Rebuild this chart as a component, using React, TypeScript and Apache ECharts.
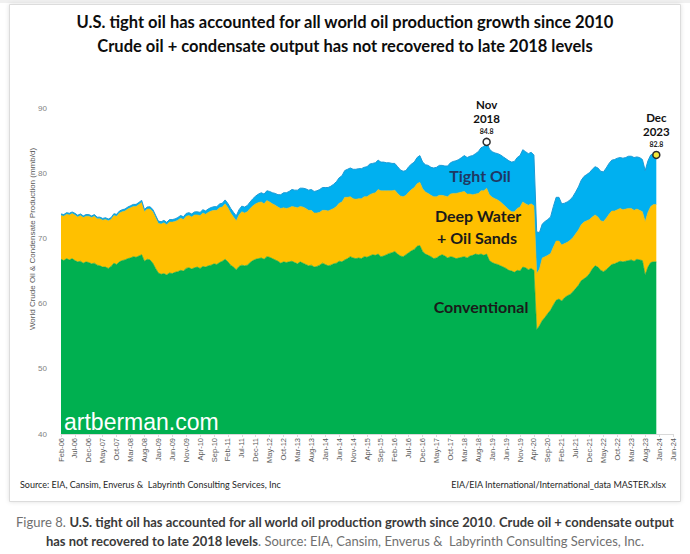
import React, { useEffect, useRef } from "react";
import * as echarts from "echarts";

const MONTHS = ["Jan","Feb","Mar","Apr","May","Jun","Jul","Aug","Sep","Oct","Nov","Dec"];
const categories: string[] = [];
for (let y = 2006; y <= 2024; y++) {
  for (let m = 0; m < 12; m++) {
    if (y === 2006 && m < 1) continue;
    if (y === 2024 && m > 5) break;
    categories.push(`${MONTHS[m]}-${String(y % 100).padStart(2, "0")}`);
  }
}

const yTicks = [40, 50, 60, 70, 80, 90];

// Feb-06 .. Dec-23 (mmb/d)
const conventional = [
  66.8, 66.6, 66.9, 66.7, 66.9, 66.6, 66.4, 66.5, 66.2, 66.4, 66.3,
  66.1, 66.2, 65.9, 65.8, 65.6, 65.6, 65.4, 65.7, 66.2, 66.0, 66.4, 66.6,
  66.7, 66.9, 67.0, 67.2, 67.1, 67.3, 67.5, 66.5, 66.8, 66.7, 66.2, 65.4,
  64.7, 64.5, 64.6, 64.4, 64.7, 64.6, 64.8, 64.9, 65.1, 65.0, 65.4, 65.5,
  65.3, 65.5, 65.6, 65.4, 65.7, 65.6, 65.8, 65.9, 66.1, 66.0, 66.3, 66.5,
  66.8, 66.4, 65.9, 65.6, 65.2, 65.7, 65.9, 65.8, 65.9, 66.3, 66.6, 66.8,
  66.9, 67.0, 66.8, 67.2, 67.1, 66.9, 66.7, 66.5, 66.2, 66.4, 66.3, 66.4,
  66.5, 66.3, 66.1, 66.4, 66.2, 66.0, 65.8, 65.9, 65.6, 65.7, 65.9, 66.2,
  66.0, 65.8, 65.9, 66.1, 66.2, 66.5, 66.4, 66.7, 66.9, 67.2, 67.0, 66.9,
  67.0, 66.9, 67.2, 67.1, 67.3, 67.5, 67.4, 67.6, 67.2, 67.3, 67.5, 67.7,
  67.8, 68.0, 67.6, 67.3, 67.2, 67.5, 67.8, 68.1, 68.3, 68.8, 68.9, 68.0,
  67.6, 67.4, 67.2, 66.9, 67.0, 67.3, 67.5, 67.3, 67.0, 67.2, 67.1, 66.9,
  67.0, 67.1, 67.2, 67.0, 67.3, 67.4, 67.6, 67.5, 67.6, 67.4, 67.6, 66.6,
  66.3, 66.1, 66.0, 65.8, 65.6, 65.4, 65.1, 65.0, 64.8, 65.1, 65.0, 65.6,
  65.5, 65.2, 65.4, 65.1, 56.0, 56.6, 57.4, 57.9, 58.5, 59.0, 59.8, 60.5,
  60.7, 60.4, 60.9, 61.2, 61.4, 61.8, 62.3, 62.8, 63.5, 63.8, 64.1, 64.6,
  65.3, 65.8, 65.6, 65.1, 64.9, 65.2, 65.6, 66.0, 66.1, 66.3, 66.5, 66.4,
  66.5, 66.6, 66.7, 66.5, 66.8, 66.7, 66.6, 64.4, 65.6, 66.3, 66.4, 66.4,
];

const deepWater = [
  6.7, 6.8, 6.8, 6.9, 6.9, 7.0, 6.9, 7.0, 7.0, 7.0, 7.1,
  7.1, 7.2, 7.1, 7.2, 7.2, 7.3, 7.3, 7.2, 7.3, 7.4, 7.5, 7.5,
  7.5, 7.6, 7.7, 7.7, 7.8, 7.9, 8.0, 7.6, 7.7, 7.8, 7.9, 7.8,
  7.6, 7.7, 7.8, 7.7, 7.8, 7.9, 7.8, 7.9, 8.0, 7.9, 8.0, 8.0,
  8.0, 8.1, 8.0, 8.1, 8.2, 8.1, 8.2, 8.3, 8.2, 8.3, 8.4, 8.3,
  8.5, 8.3, 8.0, 7.7, 7.5, 7.9, 8.2, 8.1, 8.2, 8.3, 8.4, 8.5,
  8.6, 8.6, 8.5, 8.6, 8.5, 8.4, 8.4, 8.3, 8.4, 8.3, 8.3, 8.3,
  8.4, 8.5, 8.6, 8.5, 8.6, 8.6, 8.5, 8.4, 8.3, 8.2, 8.1, 8.1,
  8.3, 8.4, 8.5, 8.5, 8.7, 8.9, 9.2, 9.6, 9.4, 9.2, 9.1, 9.1,
  9.1, 9.2, 9.2, 9.3, 9.4, 9.4, 9.6, 9.9, 10.1, 10.0, 9.8, 9.6,
  9.5, 9.4, 9.3, 9.2, 9.2, 9.1, 9.3, 9.4, 9.5, 9.6, 9.7, 9.6,
  9.5, 9.5, 9.4, 9.5, 9.4, 9.3, 9.1, 9.2, 9.4, 9.6, 9.8, 10.0,
  10.0, 10.0, 10.0, 9.8, 9.5, 9.3, 9.2, 9.4, 9.7, 9.9, 10.1, 10.1,
  10.0, 10.0, 9.9, 9.8, 9.6, 9.4, 9.3, 9.1, 9.3, 9.5, 9.8, 10.0,
  9.8, 9.9, 9.9, 9.9, 8.6, 8.7, 9.6, 9.3, 8.9, 8.7, 8.9, 9.1,
  8.9, 8.6, 8.3, 8.2, 8.3, 8.3, 8.4, 8.5, 8.6, 8.7, 8.6, 8.3,
  8.0, 7.8, 7.7, 7.6, 7.7, 7.9, 8.1, 8.2, 8.1, 8.1, 8.1, 8.0,
  8.0, 8.0, 7.9, 7.8, 7.7, 7.6, 7.5, 8.2, 8.4, 8.6, 8.8, 8.8,
];

const tightOil = [
  0.25, 0.25, 0.25, 0.25, 0.25, 0.25, 0.25, 0.25, 0.25, 0.25, 0.25,
  0.25, 0.25, 0.25, 0.26, 0.26, 0.27, 0.27, 0.28, 0.28, 0.29, 0.29, 0.3,
  0.3, 0.3, 0.31, 0.31, 0.32, 0.32, 0.33, 0.33, 0.32, 0.34, 0.35, 0.35,
  0.35, 0.36, 0.36, 0.37, 0.38, 0.38, 0.39, 0.4, 0.41, 0.42, 0.43, 0.44,
  0.45, 0.46, 0.48, 0.49, 0.5, 0.52, 0.53, 0.54, 0.56, 0.57, 0.58, 0.6,
  0.6, 0.65, 0.7, 0.7, 0.75, 0.8, 0.85, 0.9, 0.95, 1.0, 1.1, 1.2,
  1.3, 1.4, 1.5, 1.5, 1.6, 1.7, 1.8, 1.9, 2.1, 2.3, 2.4, 2.5,
  2.6, 2.6, 2.7, 2.8, 2.9, 3.0, 3.1, 3.2, 3.3, 3.4, 3.5, 3.5,
  3.5, 3.6, 3.6, 3.7, 3.8, 3.9, 4.0, 4.1, 4.3, 4.4, 4.5, 4.6,
  4.6, 4.6, 4.5, 4.6, 4.7, 4.6, 4.6, 4.5, 4.4, 4.4, 4.3, 4.3,
  4.2, 4.1, 4.1, 4.0, 3.9, 3.8, 3.9, 3.9, 3.9, 4.0, 4.1, 4.1,
  4.2, 4.3, 4.3, 4.4, 4.5, 4.6, 4.6, 4.6, 4.7, 4.8, 4.9, 5.0,
  5.1, 5.3, 5.5, 5.6, 5.8, 6.0, 6.2, 6.4, 6.6, 6.8, 7.1, 7.0,
  7.0, 7.0, 7.1, 7.2, 7.3, 7.4, 7.5, 7.6, 7.7, 7.8, 7.9, 8.0,
  8.0, 7.9, 7.9, 7.8, 6.4, 5.6, 5.2, 5.4, 5.5, 5.6, 6.2, 6.7,
  6.7, 6.3, 6.2, 6.2, 6.2, 6.3, 6.4, 6.6, 6.8, 7.0, 7.1, 7.2,
  7.3, 7.4, 7.5, 7.6, 7.6, 7.7, 7.8, 7.8, 7.9, 7.9, 7.8, 7.9,
  7.9, 8.0, 8.0, 8.1, 8.0, 8.1, 8.0, 7.8, 7.9, 7.9, 7.8, 7.6,
];

const highlightMonths = ["Nov-18", "Dec-23"];
const highlightFills = ["#ffffff", "#f3ea3c"];

const FONT = "Lato, 'Open Sans', sans-serif";

export default function App() {
  const ref = useRef<HTMLDivElement>(null);
  useEffect(() => {
    if (!ref.current) return;
    const chart = echarts.init(ref.current, null, { renderer: "svg" });
    const totals = conventional.map((c, i) => Math.round((c + deepWater[i] + tightOil[i]) * 10) / 10);
    const highlightData = highlightMonths.map((name, i) => {
      const idx = categories.indexOf(name);
      return { name, value: [idx, totals[idx]], itemStyle: { color: highlightFills[i] } };
    });
    const areaSeries = (name: string, data: number[], color: string, lineColor: string, lw: number) => ({
      name,
      type: "line",
      stack: "total",
      data,
      symbol: "none",
      showSymbol: false,
      lineStyle: { width: lw, color: lineColor },
      itemStyle: { color },
      areaStyle: { color, opacity: 1 },
      z: 2,
    });
    chart.setOption({
      animation: false,
      backgroundColor: "#ffffff",
      grid: { left: 61, right: 17, top: 108, bottom: 120, containLabel: false },
      xAxis: {
        type: "category",
        data: categories,
        boundaryGap: false,
        axisLine: { show: true, lineStyle: { color: "#d9d9d9", width: 1 } },
        axisTick: { show: true, interval: 4, length: 3, lineStyle: { color: "#d9d9d9" } },
        axisLabel: {
          interval: 4,
          rotate: 90,
          fontSize: 7.5,
          fontFamily: "'Liberation Sans', Arial, sans-serif",
          color: "#595959",
          margin: 4,
        },
        splitLine: { show: false },
      },
      yAxis: {
        type: "value",
        min: yTicks[0],
        max: yTicks[yTicks.length - 1],
        interval: 10,
        axisLine: { show: false },
        axisTick: { show: false },
        splitLine: { show: false },
        axisLabel: {
          fontSize: 8,
          fontFamily: "'Liberation Sans', Arial, sans-serif",
          color: "#7f7f7f",
          margin: 14,
        },
      },
      series: [
        areaSeries("Conventional", conventional, "#00b050", "#00a84a", 0.6),
        areaSeries("Deep Water + Oil Sands", deepWater, "#ffc000", "#f5b800", 0.6),
        areaSeries("Tight Oil", tightOil, "#00b0f0", "#1b9ad6", 1),
        {
          type: "scatter",
          data: highlightData,
          symbol: "circle",
          symbolSize: 7,
          z: 10,
          itemStyle: { borderColor: "#2b2b2b", borderWidth: 1.5, opacity: 1 },
          label: {
            show: true,
            position: "top",
            distance: 2,
            align: "center",
            formatter: (p: any) => {
              const [mon, yr] = String(p.name).split("-");
              return `{m|${mon}}\n{m|20${yr}}\n{v|${Number(p.value[1]).toFixed(1)}}`;
            },
            rich: {
              m: { fontFamily: FONT, fontWeight: "bold", fontSize: 11.5, color: "#111111", lineHeight: 14, align: "center" },
              v: { fontFamily: FONT, fontWeight: "bold", fontSize: 7, color: "#222222", lineHeight: 10, align: "center" },
            },
          },
        },
      ],
      graphic: [
        { type: "rect", z: -10, shape: { x: 0, y: 0, width: 690, height: 3 }, style: { fill: "#f0f0f0" } },
        {
          type: "rect",
          z: -9,
          shape: { x: 9.5, y: 4.5, width: 671, height: 497 },
          style: { fill: "#ffffff", stroke: "#dcdcdc", lineWidth: 1, shadowBlur: 4, shadowColor: "rgba(0,0,0,0.12)" },
        },
        {
          type: "text", x: 345, y: 22, z: 50,
          style: { text: "U.S. tight oil has accounted for all world oil production growth since 2010", textAlign: "center", textVerticalAlign: "middle", align: "center", verticalAlign: "middle", font: `bold 16.5px ${FONT}`, fill: "#0d0d0d" },
        },
        {
          type: "text", x: 345, y: 46, z: 50,
          style: { text: "Crude oil + condensate output has not recovered to late 2018 levels", textAlign: "center", textVerticalAlign: "middle", align: "center", verticalAlign: "middle", font: `bold 16.5px ${FONT}`, fill: "#0d0d0d" },
        },
        {
          type: "text", x: 32, y: 239, rotation: Math.PI / 2, z: 50,
          style: { text: "World Crude Oil & Condensate Production (mmb/d)", textAlign: "center", textVerticalAlign: "middle", align: "center", verticalAlign: "middle", font: "8px 'Liberation Sans', Arial, sans-serif", fill: "#595959" },
        },
        {
          type: "text", x: 480, y: 175, z: 50,
          style: { text: "Tight Oil", textAlign: "center", textVerticalAlign: "middle", align: "center", verticalAlign: "middle", font: `bold 16px ${FONT}`, fill: "#1f3864" },
        },
        {
          type: "text", x: 478, y: 215, z: 50,
          style: { text: "Deep Water", textAlign: "center", textVerticalAlign: "middle", align: "center", verticalAlign: "middle", font: `bold 16px ${FONT}`, fill: "#1a1a1a" },
        },
        {
          type: "text", x: 477, y: 237, z: 50,
          style: { text: "+ Oil Sands", textAlign: "center", textVerticalAlign: "middle", align: "center", verticalAlign: "middle", font: `bold 16px ${FONT}`, fill: "#1a1a1a" },
        },
        {
          type: "text", x: 481, y: 306, z: 50,
          style: { text: "Conventional", textAlign: "center", textVerticalAlign: "middle", align: "center", verticalAlign: "middle", font: `bold 16px ${FONT}`, fill: "#1a1a1a" },
        },
        {
          type: "text", x: 64, y: 433, z: 50,
          style: { text: "artberman.com", textAlign: "left", textVerticalAlign: "bottom", align: "left", verticalAlign: "bottom", font: "23px 'Liberation Sans', Arial, sans-serif", fill: "#ffffff" },
        },
        {
          type: "text", x: 20, y: 484, z: 50,
          style: { text: "Source: EIA, Cansim, Enverus &  Labyrinth Consulting Services, Inc", textAlign: "left", textVerticalAlign: "middle", align: "left", verticalAlign: "middle", font: `9px ${FONT}`, fill: "#262626" },
        },
        {
          type: "text", x: 666, y: 484, z: 50,
          style: { text: "EIA/EIA International/International_data MASTER.xlsx", textAlign: "right", textVerticalAlign: "middle", align: "right", verticalAlign: "middle", font: `9px ${FONT}`, fill: "#262626" },
        },
        {
          type: "text", x: 345, y: 522, z: 50,
          style: {
            text: "{g|Figure 8. }{b|U.S. tight oil has accounted for all world oil production growth since 2010}{g|. }{b|Crude oil + condensate output}",
            textAlign: "center", textVerticalAlign: "middle", align: "center", verticalAlign: "middle",
            font: `13px ${FONT}`,
            rich: {
              g: { fontFamily: FONT, fontSize: 13, fill: "#707070" },
              b: { fontFamily: FONT, fontSize: 13, fontWeight: "bold", fill: "#3a3a3a" },
            },
          },
        },
        {
          type: "text", x: 345, y: 541, z: 50,
          style: {
            text: "{b|has not recovered to late 2018 levels}{g|. Source: EIA, Cansim, Enverus &  Labyrinth Consulting Services, Inc.}",
            textAlign: "center", textVerticalAlign: "middle", align: "center", verticalAlign: "middle",
            font: `13px ${FONT}`,
            rich: {
              g: { fontFamily: FONT, fontSize: 13, fill: "#707070" },
              b: { fontFamily: FONT, fontSize: 13, fontWeight: "bold", fill: "#3a3a3a" },
            },
          },
        },
      ],
    });
    return () => chart.dispose();
  }, []);
  return <div ref={ref} style={{ position: "fixed", left: 0, top: 0, width: 690, height: 554 }} />;
}
